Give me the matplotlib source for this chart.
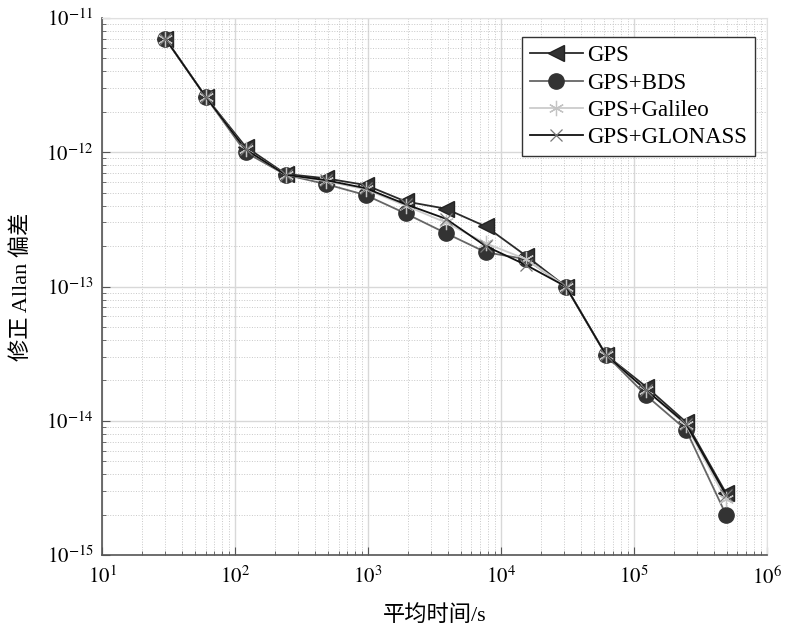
import matplotlib
matplotlib.use("Agg")
import matplotlib.pyplot as plt
import numpy as np
from matplotlib.ticker import LogLocator, NullFormatter

plt.rcParams['font.family'] = ['Liberation Serif', 'Noto Sans CJK SC']
plt.rcParams['mathtext.fontset'] = 'stix'

# averaging times (s)
tau = [30, 60, 120, 240, 480, 960, 1920, 3840, 7680, 15360,
       30720, 61440, 122880, 245760, 491520]

# modified Allan deviation per constellation combination
gps = [7.0e-12, 2.6e-12, 1.1e-12, 6.9e-13, 6.4e-13, 5.7e-13, 4.3e-13, 3.8e-13,
       2.8e-13, 1.7e-13, 1.0e-13, 3.1e-14, 1.8e-14, 9.8e-15, 2.9e-15]
gps_bds = [7.0e-12, 2.6e-12, 1.0e-12, 6.8e-13, 5.8e-13, 4.8e-13, 3.5e-13, 2.5e-13,
           1.8e-13, 1.6e-13, 1.0e-13, 3.1e-14, 1.55e-14, 8.6e-15, 2.0e-15]
gps_galileo = [7.0e-12, 2.6e-12, 1.05e-12, 6.8e-13, 6.1e-13, 5.3e-13, 4.0e-13, 3.0e-13,
               2.1e-13, 1.6e-13, 1.0e-13, 3.1e-14, 1.7e-14, 9.3e-15, 2.6e-15]
gps_glonass = [7.0e-12, 2.6e-12, 1.05e-12, 6.8e-13, 6.2e-13, 5.4e-13, 4.1e-13, 3.2e-13,
               2.0e-13, 1.45e-13, 1.0e-13, 3.1e-14, 1.7e-14, 9.5e-15, 2.8e-15]

x_ticks = [1e1, 1e2, 1e3, 1e4, 1e5, 1e6]
x_ticklabels = [r'$10^{1}$', r'$10^{2}$', r'$10^{3}$', r'$10^{4}$', r'$10^{5}$', r'$10^{6}$']
y_ticks = [1e-15, 1e-14, 1e-13, 1e-12, 1e-11]
y_ticklabels = [r'$10^{-15}$', r'$10^{-14}$', r'$10^{-13}$', r'$10^{-12}$', r'$10^{-11}$']

fig = plt.figure(figsize=(7.86, 6.30), dpi=100)
ax = fig.add_axes([0.1298, 0.119, 0.846, 0.8524])

ax.loglog(tau, gps, '-', color='#2a2a2a', lw=1.3, marker='<', ms=12,
          mfc='#333333', mec='#222222', label='GPS')
ax.loglog(tau, gps_bds, '-', color='#666666', lw=1.3, marker='o', ms=11,
          mfc='#333333', mec='#333333', label='GPS+BDS')
ax.loglog(tau, gps_galileo, '-', color='#cccccc', lw=1.3, marker=(6, 2, 0), ms=11,
          mec='#c4c4c4', mew=0.9, label='GPS+Galileo')
ax.loglog(tau, gps_glonass, '-', color='#111111', lw=1.3, marker='x', ms=9,
          mec='#777777', mew=0.9, label='GPS+GLONASS')

ax.set_xlim(1e1, 1e6)
ax.set_ylim(1e-15, 1e-11)
ax.set_xticks(x_ticks)
ax.set_xticklabels(x_ticklabels)
ax.set_yticks(y_ticks)
ax.set_yticklabels(y_ticklabels)

ax.xaxis.set_minor_locator(LogLocator(base=10, subs=np.arange(2, 10)))
ax.yaxis.set_minor_locator(LogLocator(base=10, subs=np.arange(2, 10)))
ax.xaxis.set_minor_formatter(NullFormatter())
ax.yaxis.set_minor_formatter(NullFormatter())

ax.grid(which='major', color='#d8d8d8', lw=1.0, ls='-')
ax.grid(which='minor', color='#c8c8c8', lw=0.7, ls=':')
ax.set_axisbelow(True)

ax.tick_params(which='both', direction='in', colors='#555555', labelcolor='black',
               labelsize=15, top=False, right=False)
ax.tick_params(which='major', length=6)
ax.tick_params(which='minor', length=3)
ax.tick_params(axis='x', pad=8)
ax.tick_params(axis='y', pad=6)

for side in ['left', 'bottom']:
    ax.spines[side].set_color('#555555')
    ax.spines[side].set_linewidth(1.2)
for side in ['top', 'right']:
    ax.spines[side].set_color('#e0e0e0')
    ax.spines[side].set_linewidth(0.8)

ax.set_xlabel('平均时间/s', fontsize=16, labelpad=12)
ax.set_ylabel('修正 Allan 偏差', fontsize=16, labelpad=10)

leg = ax.legend(loc='upper right', bbox_to_anchor=(0.982, 0.9646), fontsize=16.5,
                handlelength=2.3, handletextpad=0.2, borderpad=0.35,
                labelspacing=0.28, borderaxespad=0, fancybox=False, framealpha=1)
leg.get_frame().set_edgecolor('#333333')
leg.get_frame().set_linewidth(1.0)

fig.savefig('out.png', dpi=100)
